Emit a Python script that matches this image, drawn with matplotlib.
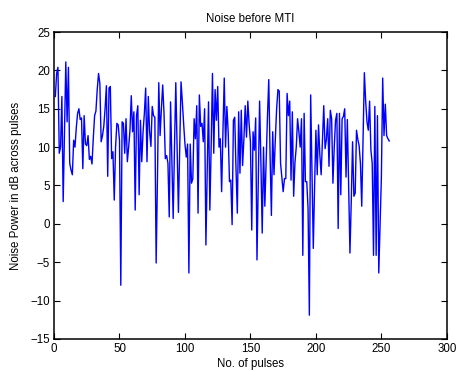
import numpy as np
import matplotlib
matplotlib.use('Agg')
from matplotlib import pyplot as plt

# noise power per pulse (dB)
noise_db = [
    16.6, 19.6, 20.4, 9.2, 10.0, 16.6, 2.9, 12.0, 21.1, 13.3,
    20.4, 7.9, 7.0, 6.4, 10.9, 10.0, 12.5, 14.4, 15.0, 13.6,
    13.8, 7.2, 14.1, 10.4, 10.2, 11.5, 8.4, 8.8, 7.8, 11.2,
    14.1, 14.7, 17.5, 19.6, 18.3,
    10.7, 11.5, 12.7, 15.0, 18.0, 6.2, 17.7, 17.9, 8.5, 9.4,
    3.1, 10.0, 13.1, 12.9, 10.9, -8.0, 13.3, 13.1, 9.2, 13.7,
    8.1, 10.0, 12.2, 16.7, 12.0, 14.6, 1.8, 14.1, 15.4, 3.8,
    13.5, 8.1, 12.0, 14.4, 17.7, 8.1, 16.6,
    12.0, 10.1, 15.3, 14.1, 13.9, -5.1, 6.0, 18.4, 11.5, 15.0,
    18.1, 14.4, 8.5, 8.9, 7.9, 0.9, 15.9, 8.0, 0.7, 10.0,
    18.4, 10.0, 1.5, 10.0, 18.5, 15.9, 13.0, 10.4, 8.7, 10.4,
    -6.4, 10.4, 5.3, 5.9, 13.7, 11.1, 15.4,
    1.4, 16.8, 12.7, 13.1, 10.7, 15.0, -2.75, 7.0, 15.9, 1.8,
    10.0, 19.6, 9.2, 17.5, 13.5, 17.9, 10.0, 11.1, 4.2, 12.0,
    19.0, 10.0, 15.3, 12.0, 5.5, 5.7, -0.1, 13.5, 13.9, 7.0,
    1.4, 14.6, 6.6, 14.8, 7.6,
    11.0, 15.4, 11.3, 16.0, 13.0, 10.7, -0.8, 12.0, 9.6, 13.8,
    -4.7, 6.0, 16.0, 8.0, -1.2, 10.0, 2.3, 8.0, 14.0, 18.8,
    9.0, 1.1, 12.0, 6.4, 11.0, 15.0, 17.5, 17.3, 7.9, 6.0,
    4.2, 5.9, 5.9, 17.0, 14.1,
    16.0, 5.7, 14.6, 3.6, 8.0, 10.0, 13.7, 12.0, 10.0, 13.7,
    -4.1, 14.4, 5.5, 5.5, 2.0, -11.9, 16.8, 7.0, -3.2, 5.0,
    12.2, 6.4, 12.9, 9.0, 6.4, 11.0, 15.4, 9.8, 11.0, 13.7,
    7.5, 14.8, 13.7, 5.3, 10.0, 13.5, 14.4,
    -0.6, 14.4, 3.8, 13.7, 14.0, 15.0, 6.1, 13.6, 5.0, -3.8,
    3.0, 10.7, 3.6, 4.0, 12.2, 11.0, 10.2, 7.9, 2.3, 11.0,
    19.7, 16.0, 13.3, 12.2, 16.0, 9.6, 7.9, -4.1, 15.3, -4.1,
    14.1, -6.4, 0.0, 6.1, 19.0, 11.5, 15.6, 11.5, 11.1, 10.8,
]
pulses = np.arange(1, len(noise_db) + 1)

plt.rcParams['font.family'] = ['Liberation Sans', 'DejaVu Sans']
plt.rcParams['font.size'] = 8.3

fig = plt.figure(figsize=(4.57, 3.71), dpi=100)
axe = fig.add_axes([0.1182, 0.0863, 0.8596, 0.8274])
axe.plot(pulses, noise_db, color='#0000ff', linewidth=1.0)

axe.set_xlim(0, 300)
axe.set_ylim(-15, 25)
axe.set_xticks(np.arange(0, 301, 50))
axe.set_yticks(np.arange(-15, 26, 5))
axe.tick_params(direction='in', top=True, right=True, length=4, width=0.8, pad=3)
for sp in axe.spines.values():
    sp.set_linewidth(1.1)

axe.set_title('Noise before MTI', fontsize=8.3, pad=7)
axe.set_xlabel('No. of pulses', labelpad=2)
axe.set_ylabel('Noise Power in dB across pulses', labelpad=6)

plt.savefig('out.png', dpi=100)
